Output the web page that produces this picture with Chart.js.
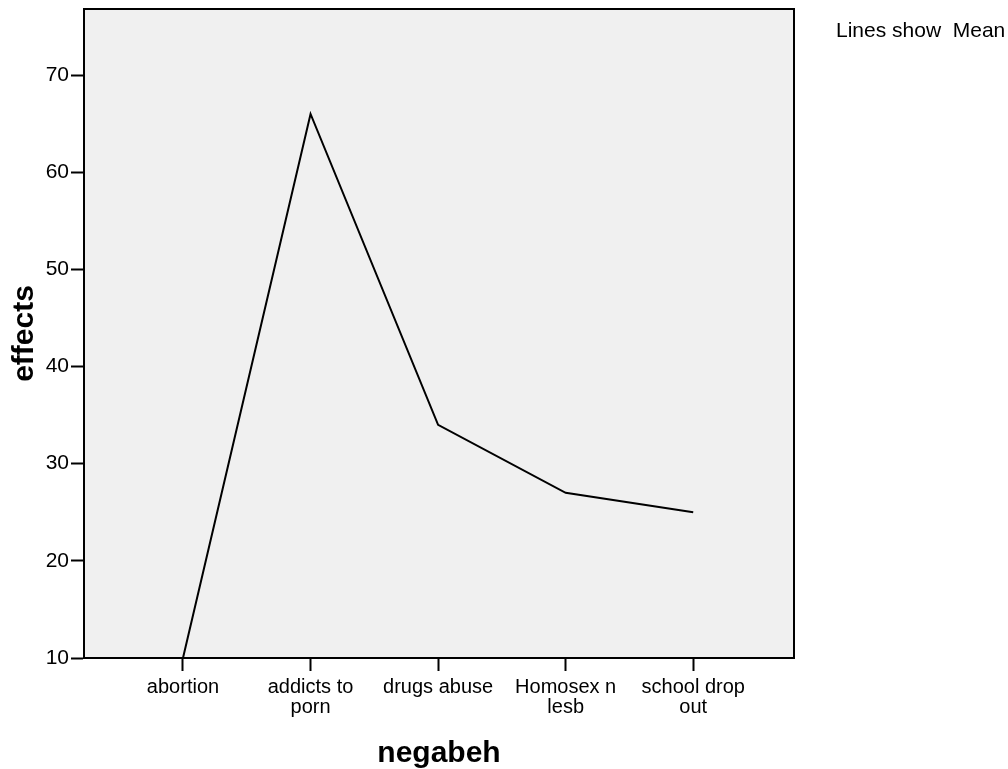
<!DOCTYPE html>
<html>
<head>
<meta charset="utf-8">
<script src="https://cdn.jsdelivr.net/npm/chart.js@4"></script>
<style>
  body { margin: 0; background: #ffffff; }
  canvas { display: block; }
</style>
</head>
<body>
<canvas id="chart" width="1008" height="769"></canvas>
<script>
// Chart data
const categories = [["abortion"], ["addicts to", "porn"], ["drugs abuse"], ["Homosex n", "lesb"], ["school drop", "out"]];
const meanEffects = [10, 66, 34, 27, 25];
const yTicks = [10, 20, 30, 40, 50, 60, 70];

const font = "'Liberation Sans', Arial, sans-serif";

// Plot background, border and the "Lines show Mean" note
const framePlugin = {
    id: "frame",
    beforeDatasetsDraw(chart) {
        const { ctx, chartArea: a } = chart;
        ctx.save();
        ctx.fillStyle = "#f0f0f0";
        ctx.fillRect(a.left, a.top, a.right - a.left, a.bottom - a.top);
        ctx.restore();
    },
    afterDraw(chart) {
        const { ctx, chartArea: a } = chart;
        ctx.save();
        ctx.strokeStyle = "#000";
        ctx.lineWidth = 2;
        ctx.strokeRect(a.left, a.top, a.right - a.left, a.bottom - a.top);
        ctx.fillStyle = "#000";
        ctx.font = "21px " + font;
        ctx.textBaseline = "middle";
        ctx.fillText("Lines show  Mean", 836, 31);
        ctx.restore();
    }
};

new Chart(document.querySelector("#chart").getContext("2d"), {
    type: "line",
    data: {
        datasets: [{
            data: meanEffects.map((v, i) => ({ x: i, y: v })),
            borderColor: "#000",
            borderWidth: 2,
            pointRadius: 0,
            tension: 0,
            fill: false
        }]
    },
    options: {
        responsive: false,
        animation: false,
        layout: { padding: { top: 9, right: 214, left: 0, bottom: 0 } },
        plugins: { legend: { display: false }, tooltip: { enabled: false } },
        scales: {
            x: {
                type: "linear",
                min: -0.776,
                max: 4.79,
                afterBuildTicks: (s) => { s.ticks = categories.map((c, i) => ({ value: i })); },
                afterFit: (s) => { s.height = 111; s.paddingLeft = 0; s.paddingRight = 0; },
                ticks: {
                    callback: (v) => categories[v],
                    color: "#000",
                    font: { family: font, size: 20, lineHeight: 1.0 },
                    padding: 6,
                    maxRotation: 0,
                    autoSkip: false
                },
                grid: { drawOnChartArea: false, drawTicks: true, tickLength: 13, tickWidth: 2, tickColor: "#000" },
                border: { display: true, color: "#000", width: 2 },
                title: {
                    display: true,
                    text: "negabeh",
                    color: "#000",
                    font: { family: font, size: 30, weight: "bold" },
                    padding: { top: 0, bottom: -3 }
                }
            },
            y: {
                min: 10,
                max: 76.8,
                afterBuildTicks: (s) => { s.ticks = yTicks.map(v => ({ value: v })); },
                afterFit: (s) => { s.width = 84; s.paddingTop = 0; s.paddingBottom = 0; },
                ticks: {
                    color: "#000",
                    font: { family: font, size: 21 },
                    padding: 2
                },
                grid: { drawOnChartArea: false, drawTicks: true, tickLength: 13, tickWidth: 2, tickColor: "#000" },
                border: { display: true, color: "#000", width: 2 },
                title: {
                    display: true,
                    text: "effects",
                    color: "#000",
                    font: { family: font, size: 30, weight: "bold" },
                    padding: { top: 7, bottom: 0 }
                }
            }
        }
    },
    plugins: [framePlugin]
});
</script>
</body>
</html>
